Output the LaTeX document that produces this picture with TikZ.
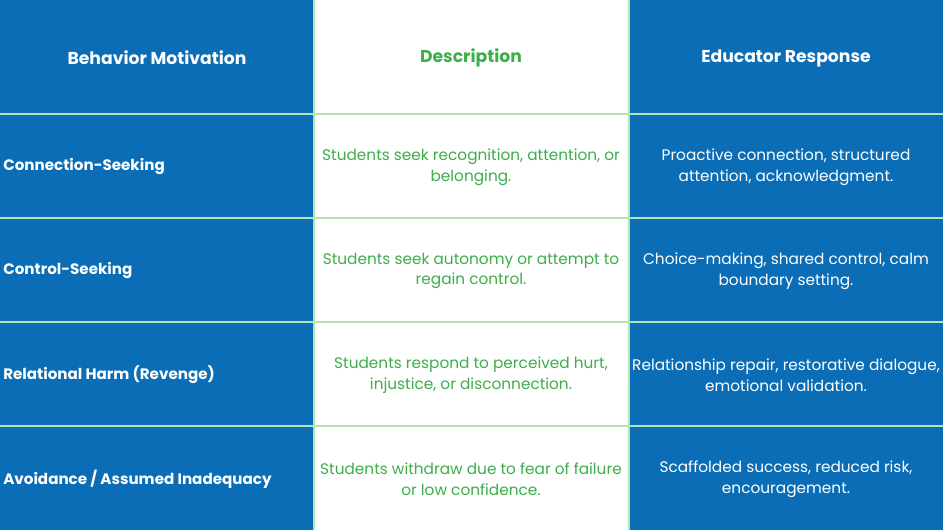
\documentclass[tikz,border=0pt]{standalone}
\usepackage{fontspec}
\setmainfont{Poppins}
\definecolor{blu}{HTML}{0A6DB5}
\definecolor{grn}{HTML}{3DAE4A}
\definecolor{grid}{HTML}{B5E3B5}
\begin{document}
\begin{tikzpicture}[x=0.75pt,y=-0.75pt,
 hd/.style={font=\fontsize{12.9}{15}\selectfont\bfseries},
 lab/.style={font=\fontsize{11.35}{14}\selectfont\bfseries,text=white,anchor=west,inner sep=0pt},
 ds/.style={font=\fontsize{11.5}{15.6}\selectfont,text=grn,align=center},
 rs/.style={font=\fontsize{11.5}{15.6}\selectfont,text=white,align=center}]
\useasboundingbox (0,0) rectangle (943,530);
\fill[blu] (0,0) rectangle (314,530);
\fill[white] (314,0) rectangle (629,530);
\fill[blu] (629,0) rectangle (943,530);
\foreach \y in {114,218,322,426} \draw[grid,line width=0.9pt] (0,\y) -- (943,\y);
\draw[grid,line width=0.9pt] (314,0) -- (314,530) (629,0) -- (629,530);
\node[hd,text=white] (h1) at (157,58) {Behavior Motivation};
\node[hd,text=grn] (h2) at (471,58) {Description};
\node[hd,text=white] (h3) at (786,58) {Educator Response};
\node[lab] (a1) at (3,167) {Connection-Seeking};
\node[lab] (a2) at (3,271) {Control-Seeking};
\node[lab] (a3) at (3,375) {Relational Harm (Revenge)};
\node[lab] (a4) at (3,479) {Avoidance / Assumed Inadequacy};
\node[ds] (b1) at (471,167) {Students seek recognition, attention, or\\belonging.};
\node[ds] (b2) at (471,271) {Students seek autonomy or attempt to\\regain control.};
\node[ds] (b3) at (471,375) {Students respond to perceived hurt,\\injustice, or disconnection.};
\node[ds] (b4) at (471,479) {Students withdraw due to fear of failure\\or low confidence.};
\node[rs] (c1) at (786,167) {Proactive connection, structured\\attention, acknowledgment.};
\node[rs] (c2) at (786,271) {Choice-making, shared control, calm\\boundary setting.};
\node[rs] (c3) at (786,375) {Relationship repair, restorative dialogue,\\emotional validation.};
\node[rs] (c4) at (786,479) {Scaffolded success, reduced risk,\\encouragement.};
\end{tikzpicture}
\end{document}
